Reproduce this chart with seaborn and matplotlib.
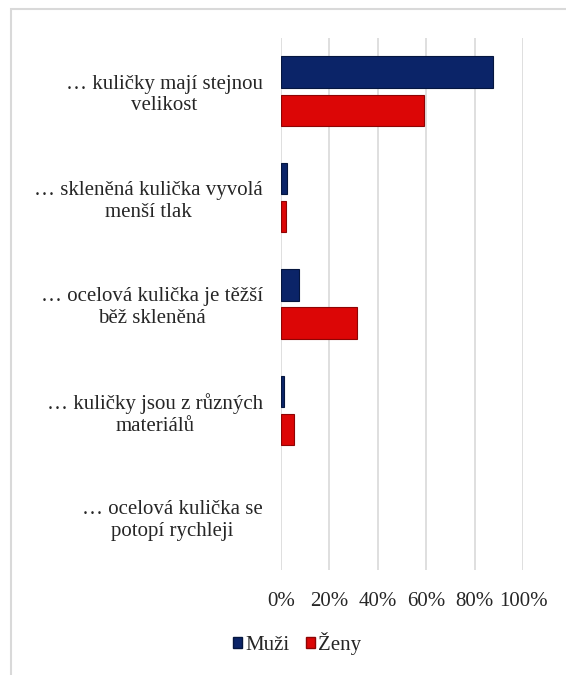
import pandas as pd
import seaborn as sns
import matplotlib.pyplot as plt
from matplotlib.patches import Rectangle
from matplotlib.ticker import FuncFormatter

# data
categories = [
    "… kuličky mají stejnou\nvelikost",
    "… skleněná kulička vyvolá\nmenší tlak",
    "… ocelová kulička je těžší\nběž skleněná",
    "… kuličky jsou z různých\nmateriálů",
    "… ocelová kulička se\npotopí rychleji",
]
muzi = [87.5, 2.3, 7.3, 1.4, 0.0]
zeny = [59.0, 1.9, 31.5, 5.2, 0.0]
groups = ["Muži", "Ženy"]
ticks = [0, 20, 40, 60, 80, 100]

df = pd.DataFrame({
    "otazka": categories * 2,
    "podil": muzi + zeny,
    "pohlavi": [groups[0]] * len(categories) + [groups[1]] * len(categories),
})

sns.set_style("white")
plt.rcParams["font.family"] = ["Liberation Serif", "DejaVu Serif"]

fig = plt.figure(figsize=(5.66, 6.75), dpi=100)
ax = fig.add_axes([0.4965, 0.1556, 0.4276, 0.7881])

colors = {"Muži": "#0b2468", "Ženy": "#dc0606"}
edges = {"Muži": "#05163f", "Ženy": "#8e0404"}
sns.barplot(data=df, y="otazka", x="podil", hue="pohlavi", orient="h",
            palette=colors, saturation=1, width=0.72, gap=0.18, ax=ax,
            legend=False, linewidth=0.8)
for cont, g in zip(ax.containers, groups):
    for bar in cont:
        if bar.get_width() > 0:
            bar.set_edgecolor(edges[g])
        else:
            bar.set_edgecolor("none")

ax.set_xlim(0, 100)
ax.set_xticks(ticks)
ax.xaxis.set_major_formatter(FuncFormatter(lambda v, p: f"{v:.0f}%"))
ax.grid(axis="x", color="#d9d9d9", linewidth=1.2)
ax.set_axisbelow(True)
for s in ax.spines.values():
    s.set_visible(False)
ax.set_xlabel("")
ax.set_ylabel("")
ax.tick_params(axis="x", labelsize=15, pad=16, length=0, colors="#262626")
ax.tick_params(axis="y", labelsize=15, pad=13, length=0, colors="#262626")
for lab in ax.get_yticklabels():
    lab.set_multialignment("center")

handles = [Rectangle((0, 0), 1, 1, facecolor=colors[g], edgecolor=edges[g]) for g in groups]
fig.legend(handles, groups, loc="center", bbox_to_anchor=(0.525, 0.047), ncol=2,
           frameon=False, fontsize=15, handlelength=0.45, handleheight=0.45,
           handletextpad=0.15, columnspacing=0.8)

# light frame around the chart area
fig.patches.append(Rectangle((11 / 566, -0.1), 1.2, 1 - 9 / 675 + 0.1,
                             transform=fig.transFigure, fill=False,
                             edgecolor="#d9d9d9", linewidth=1.5))

fig.savefig("out.png", dpi=100)
